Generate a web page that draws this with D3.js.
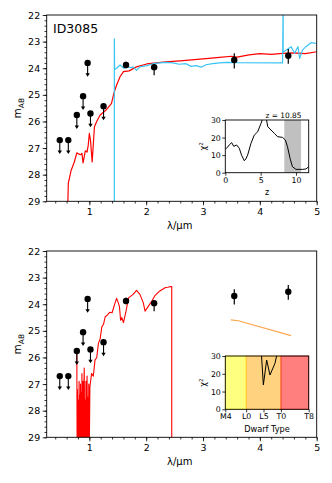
<!DOCTYPE html>
<meta charset="utf-8">
<style>
body { margin: 0; background: #fff; }
text { font-family: "DejaVu Sans", sans-serif; fill: #000; }
.tick line { stroke: #000; stroke-width: 0.8; }
</style>
<body>
<svg width="332" height="483"></svg>
<script src="https://d3js.org/d3.v7.min.js"></script>
<script>

// photometry (same in both panels)
var photWave = [0.48, 0.63, 0.78, 0.89, 0.97, 1.02, 1.25, 1.645, 2.14, 3.55, 4.50];
var photMag  = [26.7, 26.7, 25.76, 25.05, 23.8, 25.7, 25.43, 23.88, 23.96, 23.69, 23.53];
var photErrLo = [0, 0, 0, 0, 0, 0, 0, 0.12, 0.12, 0.25, 0.25];
var photErrHi = [0, 0, 0, 0, 0, 0, 0, 0.12, 0.30, 0.32, 0.30];
var photUpper = [1, 1, 1, 1, 1, 1, 1, 0, 0, 0, 0];

// top panel: low-z model (red) and high-z model (blue)
var lowzWave = [0.62, 0.63, 0.68, 0.73, 0.78, 0.82, 0.85, 0.87, 0.89, 0.93, 0.96, 0.98, 1.0, 1.02, 1.05, 1.09, 1.13, 1.19, 1.29, 1.39, 1.43, 1.48, 1.54, 1.6, 1.7, 1.83, 2.01, 2.34, 2.6, 3.0, 3.29, 3.5, 3.6, 3.81, 4.0, 4.2, 4.4, 4.6, 4.8, 5.0];
var lowzMag  = [29.3, 28.33, 27.83, 27.56, 27.18, 27.23, 27.25, 27.2, 27.56, 27.1, 27.15, 26.9, 26.45, 26.7, 27.52, 26.2, 26.0, 25.76, 25.58, 25.32, 24.95, 24.63, 24.32, 24.13, 24.1, 23.95, 23.84, 23.76, 23.72, 23.65, 23.59, 23.55, 23.58, 23.5, 23.45, 23.48, 23.44, 23.42, 23.45, 23.38];

var highzWave = [1.44, 1.44, 1.445, 1.48, 1.54, 1.61, 1.66, 1.73, 1.77, 1.83, 1.89, 2.01, 2.12, 2.24, 2.35, 2.47, 2.58, 2.7, 2.79, 2.88, 2.97, 3.05, 3.17, 3.29, 3.43, 3.55, 4.40, 4.41, 4.41, 4.46, 4.55, 4.61, 4.67, 4.70, 4.75, 4.81, 4.90, 5.0];
var highzMag  = [29.5, 22.9, 24.05, 24.0, 23.88, 24.0, 23.93, 23.98, 23.95, 24.08, 23.95, 23.9, 23.83, 23.8, 23.78, 23.8, 23.85, 23.83, 23.93, 23.9, 23.96, 23.87, 23.83, 23.8, 23.78, 23.79, 23.8, 21.5, 23.4, 23.32, 23.19, 23.44, 23.19, 23.63, 23.32, 23.19, 23.04, 23.07];

// chi2 vs redshift inset
var chiZ   = [0, 0.3, 0.6, 0.9, 1.2, 1.6, 1.98, 2.3, 2.69, 2.9, 3.16, 3.63, 4.1, 4.58, 5.05, 5.3, 5.8, 6.0, 6.47, 6.94, 7.4, 8.1, 8.5, 8.8, 9.16, 9.5, 10.0, 10.95, 11.4, 11.8];
var chiVal = [13.3, 14.5, 16.0, 17.1, 15.0, 15.8, 13.9, 10.0, 6.8, 7.8, 10.0, 16.7, 21.4, 23.3, 28.0, 31.0, 31.0, 26.2, 24.3, 22.4, 20.5, 20.1, 18.6, 14.8, 8.2, 3.4, 1.9, 1.9, 2.1, 3.4];
var zBest = "z = 10.85";
var zBand = [8.35, 10.72];

// bottom panel: brown dwarf template
var dwarfWave = [0.78, 0.785, 0.79, 0.80, 0.805, 0.81, 0.82, 0.825, 0.83, 0.84, 0.845, 0.85, 0.86, 0.865, 0.87, 0.88, 0.885, 0.89, 0.90, 0.905, 0.91, 0.92, 0.925, 0.935, 0.94, 0.95, 0.955, 0.96, 0.97, 0.975, 0.985, 0.99, 1.0, 1.01, 1.04, 1.07, 1.1, 1.13, 1.16, 1.19, 1.22, 1.25, 1.28, 1.32, 1.36, 1.4, 1.45, 1.48, 1.51, 1.53, 1.55, 1.57, 1.6, 1.64, 1.69, 1.77, 1.83, 1.89, 1.95, 1.98, 2.04, 2.1, 2.15, 2.24, 2.34, 2.38, 2.42, 2.45, 2.45];
var dwarfMag  = [25.8, 29.5, 27.2, 29.5, 27.6, 29.5, 26.9, 29.5, 27.4, 29.5, 27.0, 29.5, 27.3, 29.5, 26.6, 29.5, 27.8, 26.9, 29.5, 27.2, 26.4, 29.5, 27.6, 29.5, 26.9, 29.5, 27.3, 26.7, 29.5, 27.5, 29.5, 27.0, 29.5, 27.1, 26.6, 26.7, 26.1, 26.0, 25.47, 25.3, 24.85, 24.75, 24.47, 24.4, 24.3, 24.32, 23.97, 23.78, 23.95, 24.09, 24.6, 24.5, 24.69, 24.32, 23.76, 23.63, 23.48, 23.63, 23.95, 24.26, 24.07, 23.88, 23.69, 23.5, 23.37, 23.36, 23.34, 23.34, 29.5];
var dwarfIracWave = [3.49, 3.62, 4.55];
var dwarfIracMag  = [24.59, 24.62, 25.18];

// chi2 vs dwarf type inset
var typeLabels = ["M4", "L0", "L5", "T0", "T8"];
var typeIndex  = [0, 6, 11, 16, 24];
var dTypeX   = [10.3, 10.95, 11.9, 12.86, 14.3, 15.1];
var dTypeChi = [34, 13.7, 27.7, 19.3, 25.9, 33];
var typeBands = [[0, 6, "yellow"], [6, 16, "orange"], [16, 24, "red"]];

var svg = d3.select("svg");
var left = 46.7, right = 316.7;

function frame(g, x0, y0, w, h) {
  g.append("rect").attr("x", x0).attr("y", y0).attr("width", w).attr("height", h)
    .attr("fill", "none").attr("stroke", "#000").attr("stroke-width", 0.9);
}

function styleAxis(sel, fs) {
  sel.select(".domain").remove();
  sel.selectAll("text").style("font-size", fs + "px").attr("fill", "#000");
}

function mainPanel(top, id) {
  var h = 186.3;
  var x = d3.scaleLinear().domain([0.25, 5]).range([left, right]);
  var y = d3.scaleLinear().domain([22, 29]).range([top, top + h]);
  var g = svg.append("g");

  g.append("clipPath").attr("id", "clip" + id)
    .append("rect").attr("x", left).attr("y", top).attr("width", right - left).attr("height", h);

  // minor ticks
  g.append("g").attr("transform", "translate(0," + (top + h) + ")")
    .call(d3.axisBottom(x).tickValues(x.ticks(25)).tickSize(2.2).tickFormat(""))
    .call(function(s) { styleAxis(s, 9.5); });
  g.append("g").attr("transform", "translate(" + left + ",0)")
    .call(d3.axisLeft(y).tickValues(y.ticks(35)).tickSize(2.2).tickFormat(""))
    .call(function(s) { styleAxis(s, 9.5); });
  // major ticks
  g.append("g").attr("transform", "translate(0," + (top + h) + ")")
    .call(d3.axisBottom(x).ticks(5).tickSize(4).tickPadding(2.5).tickFormat(d3.format("d")))
    .call(function(s) { styleAxis(s, 9.5); });
  g.append("g").attr("transform", "translate(" + left + ",0)")
    .call(d3.axisLeft(y).ticks(7).tickSize(4).tickPadding(2.5).tickFormat(d3.format("d")))
    .call(function(s) { styleAxis(s, 9.5); });

  g.append("text").attr("x", (left + right) / 2 - 2).attr("y", top + h + 28)
    .attr("text-anchor", "middle").style("font-size", "10px").text("λ/μm");
  var yl = g.append("text").attr("transform", "translate(21," + (top + h / 2) + ") rotate(-90)")
    .attr("text-anchor", "middle").style("font-size", "10.5px");
  yl.append("tspan").text("m");
  yl.append("tspan").attr("dy", 2.5).style("font-size", "7.5px").text("AB");

  return { g: g, x: x, y: y, clip: "url(#clip" + id + ")" };
}

function drawLine(p, xs, ys, color, w) {
  var line = d3.line().x(function(d) { return p.x(d[0]); }).y(function(d) { return p.y(d[1]); });
  p.g.append("path").datum(d3.zip(xs, ys)).attr("clip-path", p.clip)
    .attr("fill", "none").attr("stroke", color).attr("stroke-width", w || 1.2)
    .attr("stroke-linejoin", "round").attr("d", line);
}

function drawPhot(p) {
  var pts = photWave.map(function(w, i) {
    return { w: w, m: photMag[i], lo: photErrLo[i], hi: photErrHi[i], up: photUpper[i] };
  });
  pts.forEach(function(d) {
    var cx = p.x(d.w), cy = p.y(d.m);
    if (d.up) {
      var tip = p.y(d.m + 0.52);
      p.g.append("line").attr("x1", cx).attr("x2", cx).attr("y1", cy).attr("y2", tip - 2)
        .attr("stroke", "#000").attr("stroke-width", 1.1);
      p.g.append("path").attr("d", "M" + (cx - 2.2) + "," + (tip - 3.5) + "L" + (cx + 2.2) + "," + (tip - 3.5) + "L" + cx + "," + tip + "Z")
        .attr("fill", "#000");
    } else {
      p.g.append("line").attr("x1", cx).attr("x2", cx).attr("y1", p.y(d.m - d.lo)).attr("y2", p.y(d.m + d.hi))
        .attr("stroke", "#000").attr("stroke-width", 1.2);
    }
    p.g.append("circle").attr("cx", cx).attr("cy", cy).attr("r", 3.2).attr("fill", "#000");
  });
}

// ---------- top panel ----------
var p1 = mainPanel(15, "a");
drawLine(p1, lowzWave, lowzMag, "#ff0000", 1.2);
drawLine(p1, highzWave, highzMag, "#38c4f4", 1.2);
drawPhot(p1);
frame(p1.g, left, 15, right - left, 186.3);
p1.g.append("text").attr("x", 53).attr("y", 33).style("font-size", "12.5px").text("ID3085");

// inset: chi2 vs z
(function() {
  var x0 = 225.3, x1 = 308.7, y0 = 120, y1 = 172.7;
  var x = d3.scaleLinear().domain([0, 11.8]).range([x0, x1]);
  var y = d3.scaleLinear().domain([0, 30]).range([y1, y0]);
  var g = svg.append("g");
  g.append("rect").attr("x", x0).attr("y", y0).attr("width", x1 - x0).attr("height", y1 - y0).attr("fill", "#fff");
  g.append("clipPath").attr("id", "clipc").append("rect")
    .attr("x", x0).attr("y", y0).attr("width", x1 - x0).attr("height", y1 - y0);
  g.append("rect").attr("x", x(zBand[0])).attr("y", y0).attr("width", x(zBand[1]) - x(zBand[0]))
    .attr("height", y1 - y0).attr("fill", "#c0c0c0");
  g.append("path").datum(d3.zip(chiZ, chiVal)).attr("clip-path", "url(#clipc)")
    .attr("fill", "none").attr("stroke", "#000").attr("stroke-width", 1)
    .attr("d", d3.line().x(function(d) { return x(d[0]); }).y(function(d) { return y(d[1]); }));
  g.append("g").attr("transform", "translate(0," + y1 + ")")
    .call(d3.axisBottom(x).tickValues([0, 5, 10]).tickSize(3).tickPadding(1.5))
    .call(function(s) { styleAxis(s, 7.8); });
  g.append("g").attr("transform", "translate(" + x0 + ",0)")
    .call(d3.axisLeft(y).tickValues([0, 10, 20, 30]).tickSize(3).tickPadding(1.5))
    .call(function(s) { styleAxis(s, 7.8); });
  frame(g, x0, y0, x1 - x0, y1 - y0);
  g.append("text").attr("x", 283.5).attr("y", 117.5).attr("text-anchor", "middle")
    .style("font-size", "7.4px").text(zBest);
  g.append("text").attr("x", (x0 + x1) / 2).attr("y", 195).attr("text-anchor", "middle")
    .style("font-size", "8px").text("z");
  var cl = g.append("text").attr("transform", "translate(206," + ((y0 + y1) / 2) + ") rotate(-90)")
    .attr("text-anchor", "middle").style("font-size", "8px");
  cl.append("tspan").text("χ");
  cl.append("tspan").attr("dy", -3).style("font-size", "5.5px").text("2");
})();

// ---------- bottom panel ----------
var p2 = mainPanel(251, "b");
drawLine(p2, dwarfWave, dwarfMag, "#ff0000", 1.1);
drawLine(p2, dwarfIracWave, dwarfIracMag, "#ffa64d", 1.2);
drawPhot(p2);
frame(p2.g, left, 251, right - left, 186.3);

// inset: chi2 vs dwarf type
(function() {
  var x0 = 225.3, x1 = 308.7, y0 = 356, y1 = 409.3;
  var x = d3.scaleLinear().domain([0, 24]).range([x0, x1]);
  var y = d3.scaleLinear().domain([0, 30]).range([y1, y0]);
  var g = svg.append("g");
  g.append("rect").attr("x", x0).attr("y", y0).attr("width", x1 - x0).attr("height", y1 - y0).attr("fill", "#fff");
  g.append("clipPath").attr("id", "clipd").append("rect")
    .attr("x", x0).attr("y", y0).attr("width", x1 - x0).attr("height", y1 - y0);
  typeBands.forEach(function(b) {
    g.append("rect").attr("x", x(b[0])).attr("y", y0).attr("width", x(b[1]) - x(b[0])).attr("height", y1 - y0)
      .attr("fill", b[2]).attr("fill-opacity", 0.5)
      .attr("stroke", b[2]).attr("stroke-opacity", 0.5).attr("stroke-width", 1);
  });
  g.append("path").datum(d3.zip(dTypeX, dTypeChi)).attr("clip-path", "url(#clipd)")
    .attr("fill", "none").attr("stroke", "#000").attr("stroke-width", 1)
    .attr("d", d3.line().x(function(d) { return x(d[0]); }).y(function(d) { return y(d[1]); }));
  g.append("g").attr("transform", "translate(0," + y1 + ")")
    .call(d3.axisBottom(x).tickValues(typeIndex).tickSize(3).tickPadding(1.5)
      .tickFormat(function(d, i) { return typeLabels[i]; }))
    .call(function(s) { styleAxis(s, 7.8); });
  g.append("g").attr("transform", "translate(" + x0 + ",0)")
    .call(d3.axisLeft(y).tickValues([0, 10, 20, 30]).tickSize(3).tickPadding(1.5))
    .call(function(s) { styleAxis(s, 7.8); });
  g.append("rect").attr("x", x0).attr("y", y0).attr("width", x1 - x0).attr("height", y1 - y0)
    .attr("fill", "none").attr("stroke", "#000").attr("stroke-width", 0.9);
  g.append("text").attr("x", 267).attr("y", 432).attr("text-anchor", "middle")
    .style("font-size", "8.2px").text("Dwarf Type");
  var cl = g.append("text").attr("transform", "translate(206," + ((y0 + y1) / 2) + ") rotate(-90)")
    .attr("text-anchor", "middle").style("font-size", "8px");
  cl.append("tspan").text("χ");
  cl.append("tspan").attr("dy", -3).style("font-size", "5.5px").text("2");
})();

</script>
